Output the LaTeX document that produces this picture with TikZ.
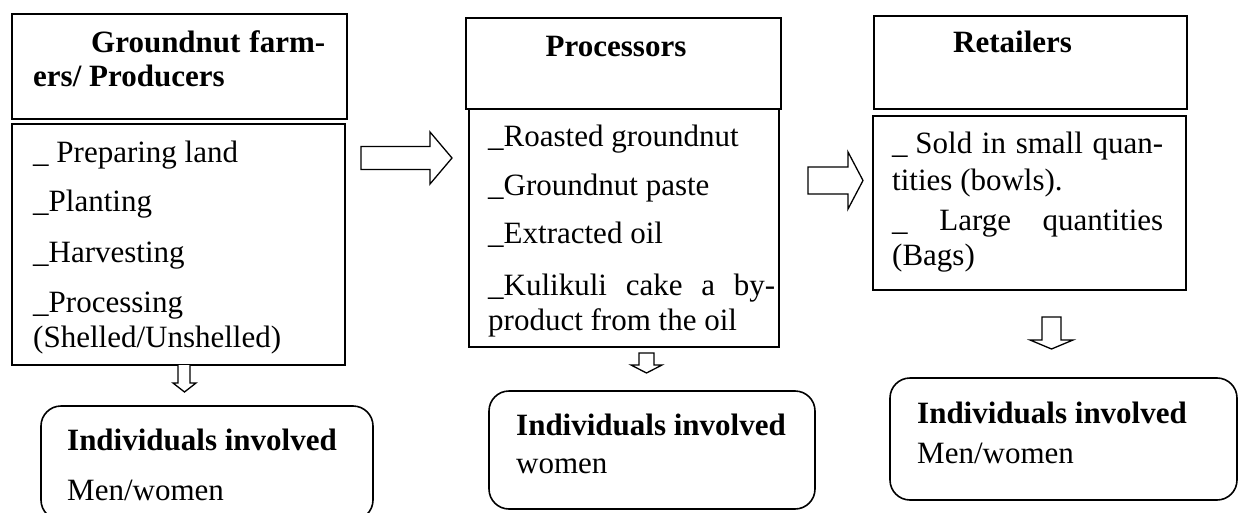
\documentclass[tikz,border=0pt]{standalone}
\usepackage{fontspec}
\setmainfont{Liberation Serif}
\begin{document}
\begin{tikzpicture}[x=1pt,y=-1pt,
  font=\fontsize{31}{35}\selectfont,
  box/.style={draw, line width=1.6pt, inner sep=0pt},
  rbox/.style={box, rounded corners=20pt},
  txt/.style={anchor=base west, inner sep=0pt},
  btxt/.style={txt, font=\fontsize{31}{35}\selectfont\bfseries},
  blockarrow/.style={draw, line width=1.3pt, fill=white, line join=miter}]
\clip (0,0) rectangle (1246,513);
\fill[white] (0,0) rectangle (1246,513);

% column 1
\node[box, minimum width=335pt, minimum height=105pt] (t1) at (179.5,66.5) {};
\node[box, minimum width=333pt, minimum height=241pt] (l1) at (178.5,244.5) {};
\node[rbox, minimum width=332pt, minimum height=114pt] (b1) at (207,463) {};
\node[btxt] (t1a) at (91,53) {\hbox to 234pt{Groundnut\hfill farm-}};
\node[btxt] (t1b) at (33,87) {ers/ Producers};
\node[txt] (l1a) at (33,163) {\_ Preparing land};
\node[txt] (l1b) at (33,211) {\_Planting};
\node[txt] (l1c) at (33,262) {\_Harvesting};
\node[txt] (l1d) at (33,312) {\_Processing};
\node[txt] (l1e) at (33,347) {(Shelled/Unshelled)};
\node[btxt] (b1a) at (67,450) {Individuals involved};
\node[txt] (b1b) at (67,500) {Men/women};

% column 2
\node[box, minimum width=315pt, minimum height=91pt] (t2) at (623.5,63.5) {};
\node[box, minimum width=310pt, minimum height=238pt] (l2) at (624,228) {};
\node[rbox, minimum width=326pt, minimum height=118pt] (b2) at (652,450) {};
\node[btxt, anchor=base] (t2a) at (616,57) {Processors};
\node[txt] (l2a) at (488,147) {\_Roasted groundnut};
\node[txt] (l2b) at (488,195) {\_Groundnut paste};
\node[txt] (l2c) at (488,243) {\_Extracted oil};
\node[txt] (l2d) at (488,295) {\hbox to 287pt{\_Kulikuli\hfill cake\hfill a\hfill by-}};
\node[txt] (l2e) at (488,330) {product from the oil};
\node[btxt] (b2a) at (516,435) {Individuals involved};
\node[txt] (b2b) at (516,473) {women};

% column 3
\node[box, minimum width=313pt, minimum height=93pt] (t3) at (1030.5,62.5) {};
\node[box, minimum width=313pt, minimum height=174pt] (l3) at (1029.5,203) {};
\node[rbox, minimum width=347pt, minimum height=122pt] (b3) at (1063.5,439) {};
\node[btxt] (t3a) at (953,53) {Retailers};
\node[txt] (l3a) at (892,154) {\hbox to 271pt{\_ Sold\hfill in\hfill small\hfill quan-}};
\node[txt] (l3b) at (892,190) {tities (bowls).};
\node[txt] (l3c) at (892,230) {\hbox to 271pt{\_\hfill Large\hfill quantities}};
\node[txt] (l3d) at (892,265) {(Bags)};
\node[btxt] (b3a) at (917,423) {Individuals involved};
\node[txt] (b3b) at (917,463) {Men/women};

% block arrows between columns
\draw[blockarrow] (361,146.5) -- (430,146.5) -- (430,132) -- (452,158) -- (430,184) -- (430,169.5) -- (361,169.5) -- cycle;
\draw[blockarrow] (808,167) -- (848,167) -- (848,152) -- (863,180.5) -- (848,209) -- (848,194) -- (808,194) -- cycle;

% down block arrows
\draw[blockarrow] (178,365) -- (178,383) -- (173,383) -- (184.5,392) -- (196,383) -- (190,383) -- (190,365);
\draw[blockarrow] (639,353) -- (654,353) -- (654,365) -- (662,365) -- (646.5,373) -- (631,365) -- (639,365) -- cycle;
\draw[blockarrow] (1042,317) -- (1061,317) -- (1061,340) -- (1073,340) -- (1051.5,349) -- (1030,340) -- (1042,340) -- cycle;
\end{tikzpicture}
\end{document}
